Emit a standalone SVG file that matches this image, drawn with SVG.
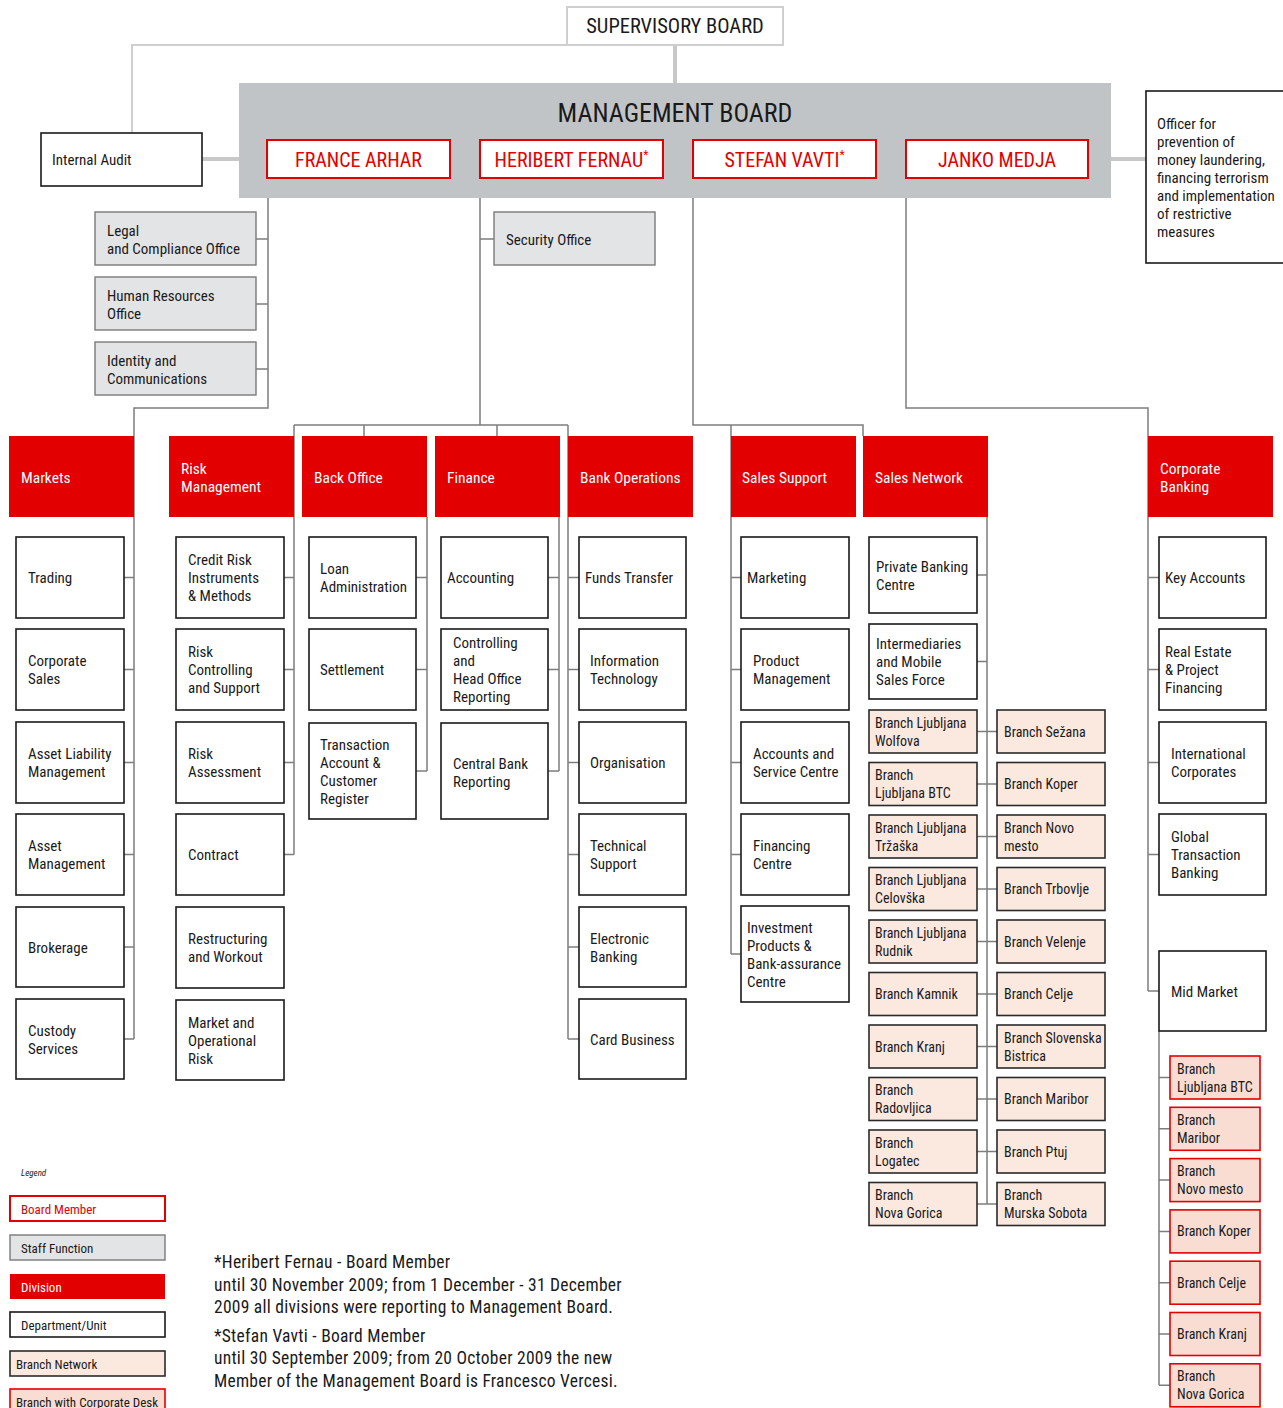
<svg xmlns="http://www.w3.org/2000/svg" width="1283" height="1408" viewBox="0 0 1283 1408">
<style>
text{font-family:"Liberation Sans Narrow","Arial Narrow","Roboto Condensed","Liberation Sans",sans-serif;}
.t{font-size:15px;fill:#1a1a1a}
.dept{fill:#fff;stroke:#1a1a1a;stroke-width:1.6}
.staff{fill:#e3e4e6;stroke:#7a7a7a;stroke-width:1.4}
.dv{fill:#e30000}
.dt{font-size:15.5px;fill:#fff}
.br{fill:#fbe8df;stroke:#2a2a2a;stroke-width:1.6}
.bc{fill:#f9ddd2;stroke:#e30000;stroke-width:1.6}
.bt{font-size:14px;fill:#1a1a1a}
.bm{fill:#fff;stroke:#e30000;stroke-width:2}
.bmt{font-size:20px;fill:#e30000;text-anchor:middle}
.c{fill:none;stroke:#7d7d7d;stroke-width:1.5}
.cl{fill:none;stroke:#cfcfcf;stroke-width:2}
.ct{fill:none;stroke:#c8c8c8;stroke-width:4}
.lg{font-size:13px;fill:#1a1a1a}
.fn{font-size:17.5px;fill:#1a1a1a;letter-spacing:0.25px}
</style>
<g id="connectors">
<path class="ct" d="M675 45V83M202 159H239M1111 159H1146"/>
<path class="cl" d="M567 45H132V133"/>
<path class="c" d="M268 198V408H134V1039M256 239H268M256 304H268M256 369H268"/>
<path class="c" d="M124 577.5H134M124 669.5H134M124 762.5H134M124 854.5H134M124 947H134M124 1039H134"/>
<path class="c" d="M480 198V425M480 239H494M294 425H568M364 425V436M497 425V436M294 425V854.5M568 425V1039"/>
<path class="c" d="M284 577.5H294M284 669.5H294M284 762.5H294M284 854.5H294"/>
<path class="c" d="M427 517V771M416 577.5H427M416 669.5H427M416 771H427"/>
<path class="c" d="M559 517V771M548 577.5H559M548 669.5H559M548 771H559"/>
<path class="c" d="M568 577.5H579M568 669.5H579M568 762.5H579M568 854.5H579M568 947H579M568 1039H579"/>
<path class="c" d="M693 198V425H863V436M731 425V954M731 577.5H741M731 669.5H741M731 762.5H741M731 854.5H741M731 954H741"/>
<path class="c" d="M987 517V1204M977 575H987M977 661.5H987M977 731.5H997M977 784H997M977 836.5H997M977 889H997M977 941.5H997M977 994H997M977 1046.5H997M977 1099H997M977 1151.5H997M977 1204H997"/>
<path class="c" d="M906 198V408H1148V991M1148 577.5H1159M1148 669.5H1159M1148 762.5H1159M1148 854.5H1159M1148 991H1159"/>
<path class="c" d="M1159 1031V1385.3M1159 1077.5H1170M1159 1128.8H1170M1159 1180.1H1170M1159 1231.4H1170M1159 1282.7H1170M1159 1334H1170M1159 1385.3H1170"/>
</g>
<g id="supervisory-board"><rect x="567" y="7" width="216" height="38" fill="#fff" stroke="#cfcfcf" stroke-width="2"/><text x="675" y="33" font-size="20.5" text-anchor="middle" fill="#1a1a1a">SUPERVISORY BOARD</text></g>
<g id="management-board"><rect x="239" y="83" width="872" height="115" fill="#c1c4c7"/><text x="675" y="122" font-size="26" text-anchor="middle" fill="#1a1a1a">MANAGEMENT BOARD</text></g>
<g id="bm-arhar"><rect class="bm" x="267" y="140" width="183" height="38"/><text class="bmt" x="358.5" y="166.5">FRANCE ARHAR</text></g>
<g id="bm-fernau"><rect class="bm" x="480" y="140" width="183" height="38"/><text class="bmt" x="571.5" y="166.5">HERIBERT FERNAU<tspan font-size="12" dy="-8">*</tspan></text></g>
<g id="bm-vavti"><rect class="bm" x="693" y="140" width="183" height="38"/><text class="bmt" x="784.5" y="166.5">STEFAN VAVTI<tspan font-size="12" dy="-8">*</tspan></text></g>
<g id="bm-medja"><rect class="bm" x="906" y="140" width="182" height="38"/><text class="bmt" x="997" y="166.5">JANKO MEDJA</text></g>
<g id="internal-audit"><rect class="dept" x="41" y="133" width="161" height="53"/><text class="t" x="52" y="165">Internal Audit</text></g>
<g id="officer"><rect class="dept" x="1146" y="91" width="140" height="172"/><text class="t" font-size="15.5"><tspan x="1157" y="128.5">Officer for</tspan><tspan x="1157" y="146.5">prevention of</tspan><tspan x="1157" y="164.5">money laundering,</tspan><tspan x="1157" y="182.5">financing terrorism</tspan><tspan x="1157" y="200.5">and implementation</tspan><tspan x="1157" y="219">of restrictive</tspan><tspan x="1157" y="237">measures</tspan></text></g>
<g id="legal"><rect class="staff" x="95" y="212" width="161" height="53"/><text class="t"><tspan x="107" y="235.5">Legal</tspan><tspan x="107" y="253.5">and Compliance Office</tspan></text></g>
<g id="hr"><rect class="staff" x="95" y="277" width="161" height="53"/><text class="t"><tspan x="107" y="300.5">Human Resources</tspan><tspan x="107" y="318.5">Office</tspan></text></g>
<g id="identity"><rect class="staff" x="95" y="342" width="161" height="53"/><text class="t"><tspan x="107" y="365.5">Identity and</tspan><tspan x="107" y="383.5">Communications</tspan></text></g>
<g id="security"><rect class="staff" x="494" y="212" width="161" height="53"/><text class="t" x="506" y="244.5">Security Office</text></g>
<g id="div-markets"><rect class="dv" x="9" y="436" width="125" height="81"/><text class="dt" x="21" y="482.5">Markets</text></g>
<g id="div-risk"><rect class="dv" x="169" y="436" width="125" height="81"/><text class="dt"><tspan x="181" y="473.5">Risk</tspan><tspan x="181" y="491.5">Management</tspan></text></g>
<g id="div-backoffice"><rect class="dv" x="302" y="436" width="125" height="81"/><text class="dt" x="314" y="482.5">Back Office</text></g>
<g id="div-finance"><rect class="dv" x="435" y="436" width="125" height="81"/><text class="dt" x="447" y="482.5">Finance</text></g>
<g id="div-bankops"><rect class="dv" x="568" y="436" width="125" height="81"/><text class="dt" x="580" y="482.5">Bank Operations</text></g>
<g id="div-salessupport"><rect class="dv" x="731" y="436" width="125" height="81"/><text class="dt" x="742" y="482.5">Sales Support</text></g>
<g id="div-salesnetwork"><rect class="dv" x="863" y="436" width="125" height="81"/><text class="dt" x="875" y="482.5">Sales Network</text></g>
<g id="div-corporate"><rect class="dv" x="1148" y="436" width="125" height="81"/><text class="dt"><tspan x="1160" y="473.5">Corporate</tspan><tspan x="1160" y="491.5">Banking</tspan></text></g>
<g id="trading"><rect class="dept" x="16" y="537" width="108" height="81"/><text class="t" x="28" y="583">Trading</text></g>
<g id="corporate-sales"><rect class="dept" x="16" y="629" width="108" height="81"/><text class="t"><tspan x="28" y="666">Corporate</tspan><tspan x="28" y="684">Sales</tspan></text></g>
<g id="alm"><rect class="dept" x="16" y="722" width="108" height="81"/><text class="t"><tspan x="28" y="759">Asset Liability</tspan><tspan x="28" y="777">Management</tspan></text></g>
<g id="asset-mgmt"><rect class="dept" x="16" y="814" width="108" height="81"/><text class="t"><tspan x="28" y="851">Asset</tspan><tspan x="28" y="869">Management</tspan></text></g>
<g id="brokerage"><rect class="dept" x="16" y="907" width="108" height="80"/><text class="t" x="28" y="952.5">Brokerage</text></g>
<g id="custody"><rect class="dept" x="16" y="999" width="108" height="80"/><text class="t"><tspan x="28" y="1035.5">Custody</tspan><tspan x="28" y="1053.5">Services</tspan></text></g>
<g id="credit-risk"><rect class="dept" x="176" y="537" width="108" height="81"/><text class="t"><tspan x="188" y="565">Credit Risk</tspan><tspan x="188" y="583">Instruments</tspan><tspan x="188" y="601">&amp; Methods</tspan></text></g>
<g id="risk-controlling"><rect class="dept" x="176" y="629" width="108" height="81"/><text class="t"><tspan x="188" y="657">Risk</tspan><tspan x="188" y="675">Controlling</tspan><tspan x="188" y="693">and Support</tspan></text></g>
<g id="risk-assessment"><rect class="dept" x="176" y="722" width="108" height="81"/><text class="t"><tspan x="188" y="759">Risk</tspan><tspan x="188" y="777">Assessment</tspan></text></g>
<g id="contract"><rect class="dept" x="176" y="814" width="108" height="81"/><text class="t" x="188" y="860">Contract</text></g>
<g id="restructuring"><rect class="dept" x="176" y="907" width="108" height="81"/><text class="t"><tspan x="188" y="944">Restructuring</tspan><tspan x="188" y="962">and Workout</tspan></text></g>
<g id="market-op-risk"><rect class="dept" x="176" y="1000" width="108" height="80"/><text class="t"><tspan x="188" y="1027.5">Market and</tspan><tspan x="188" y="1045.5">Operational</tspan><tspan x="188" y="1063.5">Risk</tspan></text></g>
<g id="loan-admin"><rect class="dept" x="309" y="537" width="107" height="81"/><text class="t"><tspan x="320" y="574">Loan</tspan><tspan x="320" y="592">Administration</tspan></text></g>
<g id="settlement"><rect class="dept" x="309" y="629" width="107" height="81"/><text class="t" x="320" y="675">Settlement</text></g>
<g id="transaction"><rect class="dept" x="309" y="723" width="107" height="96"/><text class="t"><tspan x="320" y="750">Transaction</tspan><tspan x="320" y="768">Account &amp;</tspan><tspan x="320" y="786">Customer</tspan><tspan x="320" y="804">Register</tspan></text></g>
<g id="accounting"><rect class="dept" x="441" y="537" width="107" height="81"/><text class="t" x="447" y="583">Accounting</text></g>
<g id="controlling"><rect class="dept" x="441" y="629" width="107" height="81"/><text class="t"><tspan x="453" y="648">Controlling</tspan><tspan x="453" y="666">and</tspan><tspan x="453" y="684">Head Office</tspan><tspan x="453" y="702">Reporting</tspan></text></g>
<g id="central-bank"><rect class="dept" x="441" y="723" width="107" height="96"/><text class="t"><tspan x="453" y="768.5">Central Bank</tspan><tspan x="453" y="786.5">Reporting</tspan></text></g>
<g id="funds-transfer"><rect class="dept" x="579" y="537" width="107" height="81"/><text class="t" x="585" y="583">Funds Transfer</text></g>
<g id="it"><rect class="dept" x="579" y="629" width="107" height="81"/><text class="t"><tspan x="590" y="666">Information</tspan><tspan x="590" y="684">Technology</tspan></text></g>
<g id="organisation"><rect class="dept" x="579" y="722" width="107" height="81"/><text class="t" x="590" y="768">Organisation</text></g>
<g id="technical"><rect class="dept" x="579" y="814" width="107" height="81"/><text class="t"><tspan x="590" y="851">Technical</tspan><tspan x="590" y="869">Support</tspan></text></g>
<g id="ebanking"><rect class="dept" x="579" y="907" width="107" height="80"/><text class="t"><tspan x="590" y="943.5">Electronic</tspan><tspan x="590" y="961.5">Banking</tspan></text></g>
<g id="card"><rect class="dept" x="579" y="999" width="107" height="80"/><text class="t" x="590" y="1044.5">Card Business</text></g>
<g id="marketing"><rect class="dept" x="741" y="537" width="108" height="81"/><text class="t" x="747" y="583">Marketing</text></g>
<g id="product"><rect class="dept" x="741" y="629" width="108" height="81"/><text class="t"><tspan x="753" y="666">Product</tspan><tspan x="753" y="684">Management</tspan></text></g>
<g id="accounts"><rect class="dept" x="741" y="722" width="108" height="81"/><text class="t"><tspan x="753" y="759">Accounts and</tspan><tspan x="753" y="777">Service Centre</tspan></text></g>
<g id="financing"><rect class="dept" x="741" y="814" width="108" height="81"/><text class="t"><tspan x="753" y="851">Financing</tspan><tspan x="753" y="869">Centre</tspan></text></g>
<g id="investment"><rect class="dept" x="741" y="906" width="108" height="96"/><text class="t"><tspan x="747" y="932.5">Investment</tspan><tspan x="747" y="950.5">Products &amp;</tspan><tspan x="747" y="968.5">Bank-assurance</tspan><tspan x="747" y="986.5">Centre</tspan></text></g>
<g id="private-banking"><rect class="dept" x="869" y="537" width="108" height="76"/><text class="t"><tspan x="876" y="572">Private Banking</tspan><tspan x="876" y="590">Centre</tspan></text></g>
<g id="intermediaries"><rect class="dept" x="869" y="624" width="108" height="75"/><text class="t"><tspan x="876" y="649">Intermediaries</tspan><tspan x="876" y="667">and Mobile</tspan><tspan x="876" y="685">Sales Force</tspan></text></g>
<g id="br-wolfova"><rect class="br" x="869" y="710" width="108" height="43"/><text class="bt"><tspan x="875" y="727.5">Branch Ljubljana</tspan><tspan x="875" y="745.5">Wolfova</tspan></text></g>
<g id="br-btc"><rect class="br" x="869" y="762.5" width="108" height="43"/><text class="bt"><tspan x="875" y="780">Branch</tspan><tspan x="875" y="798">Ljubljana BTC</tspan></text></g>
<g id="br-trzaska"><rect class="br" x="869" y="815" width="108" height="43"/><text class="bt"><tspan x="875" y="832.5">Branch Ljubljana</tspan><tspan x="875" y="850.5">Tržaška</tspan></text></g>
<g id="br-celovska"><rect class="br" x="869" y="867.5" width="108" height="43"/><text class="bt"><tspan x="875" y="885">Branch Ljubljana</tspan><tspan x="875" y="903">Celovška</tspan></text></g>
<g id="br-rudnik"><rect class="br" x="869" y="920" width="108" height="43"/><text class="bt"><tspan x="875" y="937.5">Branch Ljubljana</tspan><tspan x="875" y="955.5">Rudnik</tspan></text></g>
<g id="br-kamnik"><rect class="br" x="869" y="972.5" width="108" height="43"/><text class="bt" x="875" y="999">Branch Kamnik</text></g>
<g id="br-kranj"><rect class="br" x="869" y="1025" width="108" height="43"/><text class="bt" x="875" y="1051.5">Branch Kranj</text></g>
<g id="br-radovljica"><rect class="br" x="869" y="1077.5" width="108" height="43"/><text class="bt"><tspan x="875" y="1095">Branch</tspan><tspan x="875" y="1113">Radovljica</tspan></text></g>
<g id="br-logatec"><rect class="br" x="869" y="1130" width="108" height="43"/><text class="bt"><tspan x="875" y="1147.5">Branch</tspan><tspan x="875" y="1165.5">Logatec</tspan></text></g>
<g id="br-novagorica"><rect class="br" x="869" y="1182.5" width="108" height="43"/><text class="bt"><tspan x="875" y="1200">Branch</tspan><tspan x="875" y="1218">Nova Gorica</tspan></text></g>
<g id="br-sezana"><rect class="br" x="997" y="710" width="108" height="43"/><text class="bt" x="1004" y="736.5">Branch Sežana</text></g>
<g id="br-koper"><rect class="br" x="997" y="762.5" width="108" height="43"/><text class="bt" x="1004" y="789">Branch Koper</text></g>
<g id="br-novomesto"><rect class="br" x="997" y="815" width="108" height="43"/><text class="bt"><tspan x="1004" y="832.5">Branch Novo</tspan><tspan x="1004" y="850.5">mesto</tspan></text></g>
<g id="br-trbovlje"><rect class="br" x="997" y="867.5" width="108" height="43"/><text class="bt" x="1004" y="894">Branch Trbovlje</text></g>
<g id="br-velenje"><rect class="br" x="997" y="920" width="108" height="43"/><text class="bt" x="1004" y="946.5">Branch Velenje</text></g>
<g id="br-celje"><rect class="br" x="997" y="972.5" width="108" height="43"/><text class="bt" x="1004" y="999">Branch Celje</text></g>
<g id="br-slovbistrica"><rect class="br" x="997" y="1025" width="108" height="43"/><text class="bt" font-size="13"><tspan x="1004" y="1042.5">Branch Slovenska</tspan><tspan x="1004" y="1060.5">Bistrica</tspan></text></g>
<g id="br-maribor"><rect class="br" x="997" y="1077.5" width="108" height="43"/><text class="bt" x="1004" y="1104">Branch Maribor</text></g>
<g id="br-ptuj"><rect class="br" x="997" y="1130" width="108" height="43"/><text class="bt" x="1004" y="1156.5">Branch Ptuj</text></g>
<g id="br-murskasobota"><rect class="br" x="997" y="1182.5" width="108" height="43"/><text class="bt"><tspan x="1004" y="1200">Branch</tspan><tspan x="1004" y="1218">Murska Sobota</tspan></text></g>
<g id="key-accounts"><rect class="dept" x="1159" y="537" width="107" height="81"/><text class="t" x="1165" y="583">Key Accounts</text></g>
<g id="real-estate"><rect class="dept" x="1159" y="629" width="107" height="81"/><text class="t" font-size="14"><tspan x="1165" y="657">Real Estate</tspan><tspan x="1165" y="675">&amp; Project</tspan><tspan x="1165" y="693">Financing</tspan></text></g>
<g id="intl-corporates"><rect class="dept" x="1159" y="722" width="107" height="81"/><text class="t"><tspan x="1171" y="759">International</tspan><tspan x="1171" y="777">Corporates</tspan></text></g>
<g id="gtb"><rect class="dept" x="1159" y="814" width="107" height="81"/><text class="t"><tspan x="1171" y="842">Global</tspan><tspan x="1171" y="860">Transaction</tspan><tspan x="1171" y="878">Banking</tspan></text></g>
<g id="mid-market"><rect class="dept" x="1159" y="951" width="107" height="80"/><text class="t" x="1171" y="996.5">Mid Market</text></g>
<g id="cd-btc"><rect class="bc" x="1170" y="1056" width="90" height="43"/><text class="bt"><tspan x="1177" y="1073.5">Branch</tspan><tspan x="1177" y="1091.5">Ljubljana BTC</tspan></text></g>
<g id="cd-maribor"><rect class="bc" x="1170" y="1107.3" width="90" height="43"/><text class="bt"><tspan x="1177" y="1124.8">Branch</tspan><tspan x="1177" y="1142.8">Maribor</tspan></text></g>
<g id="cd-novomesto"><rect class="bc" x="1170" y="1158.6" width="90" height="43"/><text class="bt"><tspan x="1177" y="1176.1">Branch</tspan><tspan x="1177" y="1194.1">Novo mesto</tspan></text></g>
<g id="cd-koper"><rect class="bc" x="1170" y="1209.9" width="90" height="43"/><text class="bt" x="1177" y="1236.4">Branch Koper</text></g>
<g id="cd-celje"><rect class="bc" x="1170" y="1261.2" width="90" height="43"/><text class="bt" x="1177" y="1287.7">Branch Celje</text></g>
<g id="cd-kranj"><rect class="bc" x="1170" y="1312.5" width="90" height="43"/><text class="bt" x="1177" y="1339">Branch Kranj</text></g>
<g id="cd-novagorica"><rect class="bc" x="1170" y="1363.8" width="90" height="43"/><text class="bt"><tspan x="1177" y="1381.3">Branch</tspan><tspan x="1177" y="1399.3">Nova Gorica</tspan></text></g>
<g id="legend">
<text x="21" y="1176" font-size="9" font-style="italic" fill="#1a1a1a">Legend</text>
<rect class="bm" x="10" y="1196" width="155" height="25" stroke-width="1.6"/><text class="lg" x="21" y="1213.5" style="fill:#e30000">Board Member</text>
<rect class="staff" x="10" y="1235" width="155" height="25"/><text class="lg" x="21" y="1252.5">Staff Function</text>
<rect class="dv" x="10" y="1274" width="155" height="25"/><text class="lg" x="21" y="1291.5" style="fill:#fff">Division</text>
<rect class="dept" x="10" y="1312" width="155" height="25"/><text class="lg" x="21" y="1329.5">Department/Unit</text>
<rect class="br" x="10" y="1351" width="155" height="25"/><text class="lg" x="16" y="1368.5">Branch Network</text>
<rect class="bc" x="10" y="1389" width="155" height="25"/><text class="lg" x="16" y="1406.5">Branch with Corporate Desk</text>
</g>
<g id="footnote"><text class="fn"><tspan x="214" y="1268">*Heribert Fernau - Board Member</tspan><tspan x="214" y="1291">until 30 November 2009; from 1 December - 31 December</tspan><tspan x="214" y="1313">2009 all divisions were reporting to Management Board.</tspan><tspan x="214" y="1342">*Stefan Vavti - Board Member</tspan><tspan x="214" y="1364">until 30 September 2009; from 20 October 2009 the new</tspan><tspan x="214" y="1387">Member of the Management Board is Francesco Vercesi.</tspan></text></g>
</svg>
